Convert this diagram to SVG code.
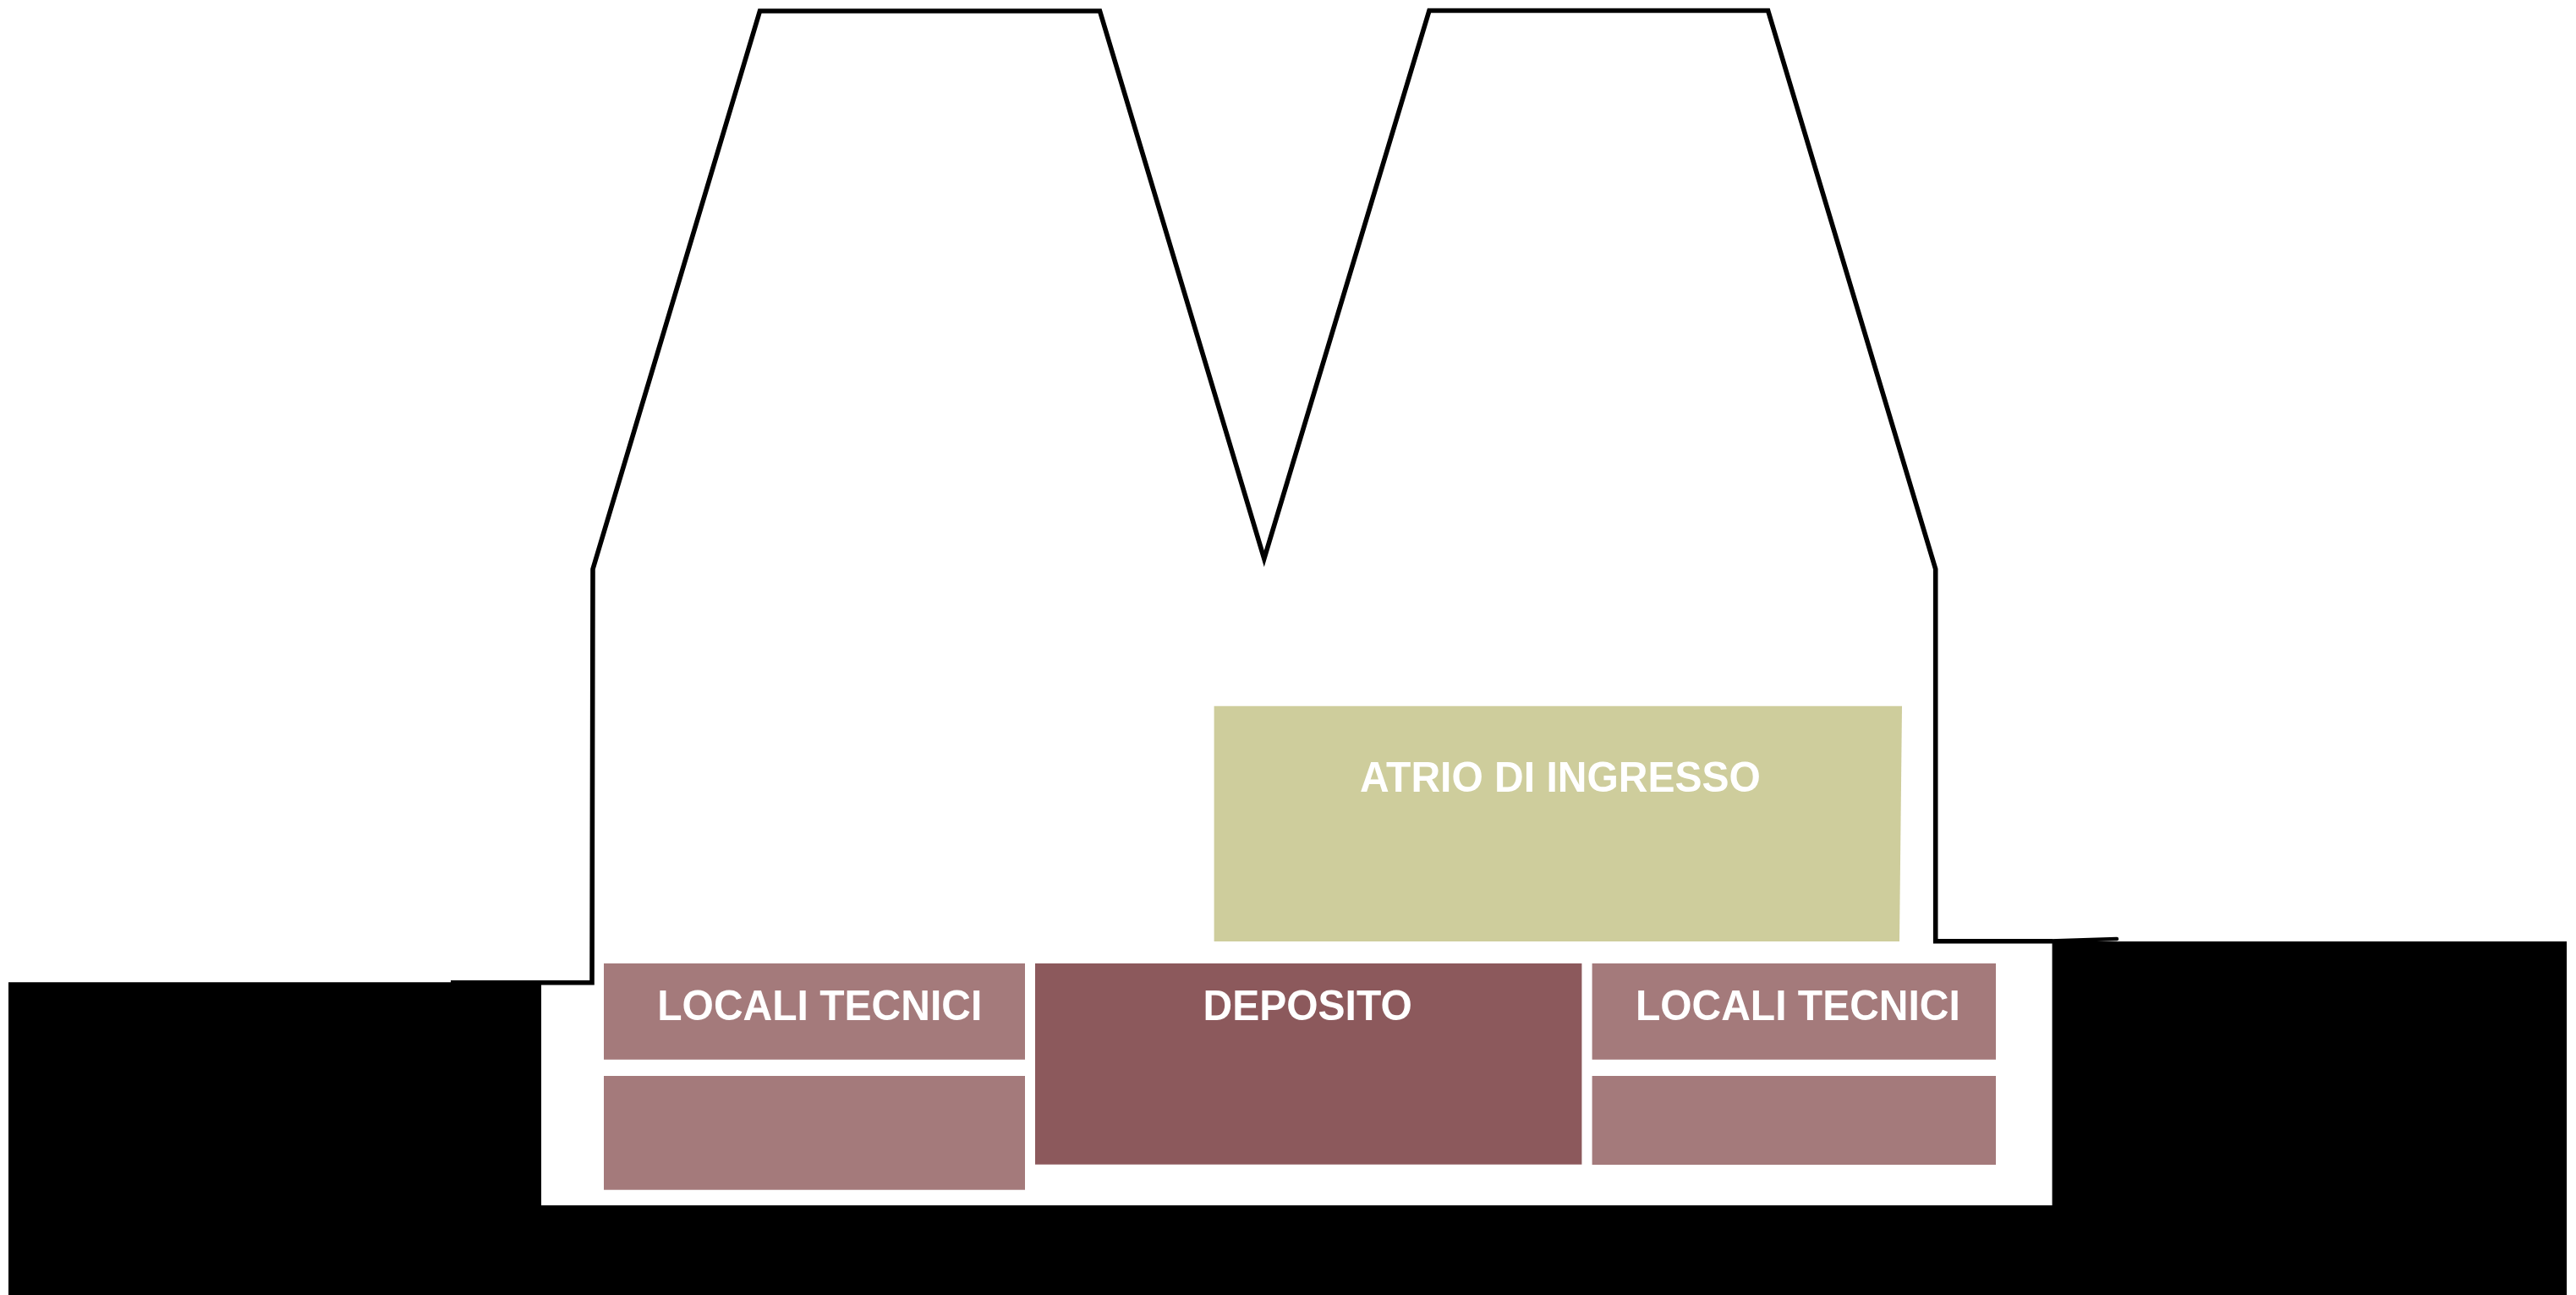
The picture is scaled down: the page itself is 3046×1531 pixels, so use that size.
<svg xmlns="http://www.w3.org/2000/svg" width="3046" height="1531" viewBox="0 0 3046 1531">
<style>
.label{font-family:"Liberation Sans",Arial,sans-serif;font-weight:700;font-size:48px;fill:#fff}
.tech{fill:#a47a7b}
</style>
<rect width="3046" height="1531" fill="#fff"/>
<polygon id="ground" fill="#000" points="10,1161.3 533,1161.3 533,1159.4 640,1159.4 640,1425 2426.6,1425 2426.6,1113 3035,1113 3035,1531 10,1531"/>
<polyline id="building-outline" fill="none" stroke="#000" stroke-width="5.6" stroke-miterlimit="10" points="533,1161.7 700,1161.7 701,672.8 898.5,13 1300.5,13 1494.8,660.5 1690,12.5 2090.6,12.5 2288.7,672.8 2288.7,1112.8 2427,1112.8"/>
<line id="roof-nib" x1="2424" y1="1112.6" x2="2503" y2="1110" stroke="#000" stroke-width="4.5" stroke-linecap="round"/>
<g id="atrio">
<polygon fill="#cecd9c" points="1435.6,834.7 2249,834.7 2246,1113 1435.6,1113"/>
<text class="label" transform="translate(1608 936) scale(1 1.03)">ATRIO DI INGRESSO</text>
</g>
<g id="locali-tecnici-left">
<rect class="tech" x="714" y="1139" width="498" height="113.7"/>
<text class="label" transform="translate(777.3 1205.8) scale(1 1.03)">LOCALI TECNICI</text>
</g>
<rect id="locale-left-lower" class="tech" x="714" y="1272" width="498" height="134.7"/>
<g id="deposito">
<rect fill="#8c595c" x="1224" y="1139" width="646.4" height="237.7"/>
<text class="label" transform="translate(1422.6 1205.8) scale(1 1.03)">DEPOSITO</text>
</g>
<g id="locali-tecnici-right">
<rect class="tech" x="1882.6" y="1139" width="477.4" height="113.7"/>
<text class="label" transform="translate(1933.9 1205.8) scale(1 1.03)">LOCALI TECNICI</text>
</g>
<rect id="locale-right-lower" class="tech" x="1882.6" y="1272" width="477.4" height="105"/>
</svg>
